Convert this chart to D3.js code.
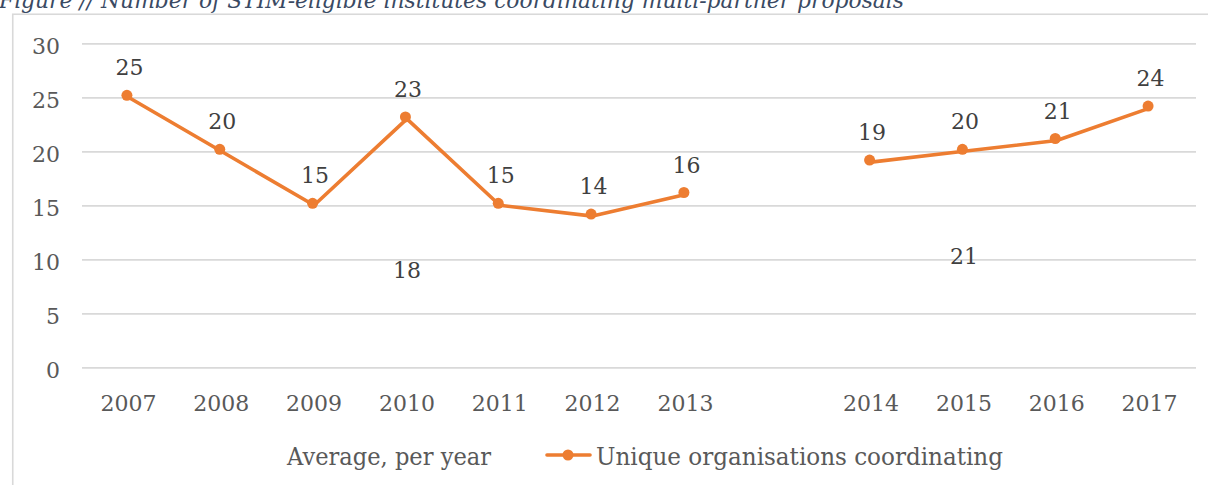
<!DOCTYPE html>
<html>
<head>
<meta charset="utf-8">
<script src="https://cdn.jsdelivr.net/npm/d3@7/dist/d3.min.js"></script>
<style>
  html, body { margin: 0; padding: 0; background: #ffffff; }
  svg { display: block; }
  text { font-family: "DejaVu Serif", "Liberation Serif", serif; fill: #595959; }
</style>
</head>
<body>
<svg id="chart" width="1208" height="485"></svg>
<script>
// Years on the category axis; the blank slot separates the two programme periods.
const categories = ["2007", "2008", "2009", "2010", "2011", "2012", "2013", " ", "2014", "2015", "2016", "2017"];
// Unique organisations coordinating multi-partner proposals, per year.
const coordinating = [25, 20, 15, 23, 15, 14, 16, null, 19, 20, 21, 24];
// Average per year for each period, shown as labels only.
const averagePeriods = ["2010", "2015"];
const averageValues = [18, 21];
// Value-axis ticks.
const yTicks = [0, 5, 10, 15, 20, 25, 30];

const titleText = "Figure // Number of STIM-eligible institutes coordinating multi-partner proposals";
const legendAverage = "Average, per year";
const legendSeries = "Unique organisations coordinating";

const orange = "#ED7D31";
const gridColor = "#D9D9D9";

const svg = d3.select("#chart");

const plot = { left: 82, right: 1196, top: 43.3, bottom: 367.3 };

const x = d3.scaleBand().domain(categories).range([plot.left, plot.right]).padding(0);
const y = d3.scaleLinear().domain([0, 30]).range([plot.bottom, plot.top]);
const cx = c => x(c) + x.bandwidth() / 2;

// Caption above the chart frame (runs off the top edge)
svg.append("text")
  .attr("x", -1)
  .attr("y", 8)
  .attr("textLength", 905)
  .attr("lengthAdjust", "spacingAndGlyphs")
  .style("font-style", "italic")
  .style("font-size", "22px")
  .style("fill", "#3A4A63")
  .text(titleText);

// Chart frame
svg.append("rect")
  .attr("x", 12.75)
  .attr("y", 14.25)
  .attr("width", 1300)
  .attr("height", 600)
  .attr("fill", "none")
  .attr("stroke", gridColor)
  .attr("stroke-width", 1.6);

// Horizontal gridlines
svg.append("g")
  .attr("transform", `translate(${plot.left},0)`)
  .call(d3.axisLeft(y).tickValues(yTicks).tickSize(-(plot.right - plot.left)).tickFormat(""))
  .call(g => g.select(".domain").remove())
  .call(g => g.selectAll(".tick line").attr("stroke", gridColor).attr("stroke-width", 1.8));

// Value-axis labels
svg.append("g")
  .attr("transform", `translate(60,0)`)
  .call(d3.axisLeft(y).tickValues(yTicks).tickSize(0).tickPadding(0).tickFormat(d3.format("d")))
  .call(g => g.select(".domain").remove())
  .call(g => g.selectAll(".tick text")
    .attr("dy", null)
    .attr("y", 10)
    .attr("x", 0)
    .style("text-anchor", "end")
    .style("font-size", "22px")
    .style("font-family", "DejaVu Serif, serif")
    .style("fill", "#595959"));

// Category-axis labels
svg.append("g")
  .attr("transform", `translate(0,${plot.bottom})`)
  .call(d3.axisBottom(x).tickSize(0).tickPadding(0))
  .call(g => g.select(".domain").remove())
  .call(g => g.selectAll(".tick text")
    .attr("dy", null)
    .attr("y", 44)
    .style("font-size", "22px")
    .style("font-family", "DejaVu Serif, serif")
    .style("fill", "#595959"));

// Series line, broken across the gap between periods
const points = categories.map((c, i) => ({ c, v: coordinating[i] }));
const line = d3.line()
  .defined(d => d.v !== null)
  .x(d => cx(d.c))
  .y(d => y(d.v));

svg.append("path")
  .datum(points)
  .attr("d", line)
  .attr("fill", "none")
  .attr("stroke", orange)
  .attr("stroke-width", 3.6)
  .attr("stroke-linejoin", "round")
  .attr("stroke-linecap", "round");

const valid = points.filter(d => d.v !== null);

svg.append("g").selectAll("circle")
  .data(valid)
  .join("circle")
  .attr("cx", d => cx(d.c) - 1.5)
  .attr("cy", d => y(d.v) - 2)
  .attr("r", 5.5)
  .attr("fill", orange);

// Data labels above each point
svg.append("g").selectAll("text")
  .data(valid)
  .join("text")
  .attr("x", d => cx(d.c) + 1)
  .attr("y", d => y(d.v) - 22)
  .attr("text-anchor", "middle")
  .style("font-size", "22px")
  .style("fill", "#404040")
  .text(d => d3.format("d")(d.v));

// Period averages, labelled in the lower part of the plot
const averageLevels = [9.0, 10.3];
svg.append("g").selectAll("text")
  .data(averagePeriods.map((p, i) => ({ p, v: averageValues[i], level: averageLevels[i] })))
  .join("text")
  .attr("x", d => cx(d.p))
  .attr("y", d => y(d.level) + 8)
  .attr("text-anchor", "middle")
  .style("font-size", "22px")
  .style("fill", "#404040")
  .text(d => d3.format("d")(d.v));

// Legend
const legend = svg.append("g");
legend.append("text")
  .attr("x", 287)
  .attr("y", 465)
  .attr("textLength", 204)
  .attr("lengthAdjust", "spacingAndGlyphs")
  .style("font-size", "24px")
  .text(legendAverage);

legend.append("line")
  .attr("x1", 547).attr("x2", 590)
  .attr("y1", 455).attr("y2", 455)
  .attr("stroke", orange)
  .attr("stroke-width", 3.6)
  .attr("stroke-linecap", "round");
legend.append("circle")
  .attr("cx", 568).attr("cy", 455).attr("r", 5.5)
  .attr("fill", orange);

legend.append("text")
  .attr("x", 596)
  .attr("y", 465)
  .attr("textLength", 407)
  .attr("lengthAdjust", "spacingAndGlyphs")
  .style("font-size", "24px")
  .text(legendSeries);
</script>
</body>
</html>
